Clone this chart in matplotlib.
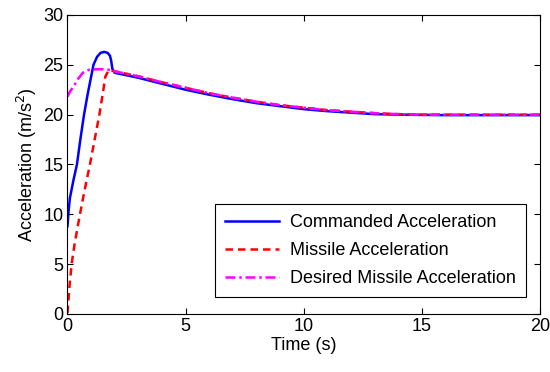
import numpy as np
import matplotlib
matplotlib.use('Agg')
import matplotlib.pyplot as plt

plt.rcParams['font.family'] = ['Liberation Sans', 'DejaVu Sans']

# Commanded acceleration
t_cmd = [0, 0.05, 0.1, 0.25, 0.4, 0.55, 0.7, 0.85, 1.0, 1.1, 1.25, 1.4, 1.55,
         1.7, 1.8, 1.85, 1.9, 2.0, 3, 4, 5, 6, 7, 8, 9, 10, 11, 12, 13, 14,
         15, 16, 17, 18, 19, 20]
a_cmd = [8.8, 10.4, 11.6, 13.4, 15.0, 17.6, 20.0, 22.0, 23.8, 25.0, 25.8, 26.2,
         26.3, 26.2, 25.9, 25.4, 24.6, 24.2, 23.7, 23.1, 22.5, 22.0, 21.55,
         21.15, 20.85, 20.55, 20.35, 20.2, 20.05, 20.0, 19.97, 19.95, 19.95,
         19.95, 19.95, 19.95]

# Missile acceleration
t_mis = [0, 0.05, 0.1, 0.18, 0.3, 0.45, 0.64, 0.8, 0.95, 1.15, 1.35, 1.5,
         1.6, 1.75, 1.9, 2.0, 3, 4, 5, 6, 7, 8, 9, 10, 11, 12, 13, 14, 15,
         16, 17, 18, 19, 20]
a_mis = [0.1, 1.7, 3.2, 5.1, 7.0, 9.0, 11.4, 13.3, 15.0, 17.5, 20.0, 22.2,
         23.8, 24.5, 24.4, 24.35, 23.85, 23.25, 22.7, 22.15, 21.7, 21.3,
         20.95, 20.7, 20.45, 20.3, 20.15, 20.05, 20.0, 20.0, 20.0, 20.0,
         20.0, 20.0]

# Desired missile acceleration
t_des = [0, 0.1, 0.25, 0.45, 0.65, 0.9, 1.2, 1.5, 1.8, 2.0, 3, 4, 5, 6, 7,
         8, 9, 10, 11, 12, 13, 14, 15, 16, 17, 18, 19, 20]
a_des = [21.8, 22.3, 22.8, 23.6, 24.2, 24.5, 24.55, 24.55, 24.5, 24.35,
         23.85, 23.25, 22.7, 22.15, 21.7, 21.3, 20.95, 20.7, 20.45, 20.3,
         20.15, 20.05, 20.0, 20.0, 20.0, 20.0, 20.0, 20.0]

fig = plt.figure(figsize=(5.5, 3.72), dpi=100)
ax = fig.add_axes([0.1227, 0.156, 0.8591, 0.8037])

ax.plot(t_cmd, a_cmd, color='#0000ff', lw=1.8, label='Commanded Acceleration')
ax.plot(t_mis, a_mis, color='#ff0000', lw=1.8, ls=(0, (3, 2)),
        label='Missile Acceleration')
ax.plot(t_des, a_des, color='#ff00ff', lw=1.8, ls=(0, (4, 1.5, 1, 1.5)),
        label='Desired Missile Acceleration')

ax.set_xlim(0, 20)
ax.set_ylim(0, 30)
ax.set_xticks([0, 5, 10, 15, 20])
ax.set_yticks([0, 5, 10, 15, 20, 25, 30])
ax.tick_params(direction='in', top=True, right=True, labelsize=13, length=4,
               pad=3)
ax.set_xlabel('Time (s)', fontsize=13, labelpad=1)
ax.set_ylabel('Acceleration (m/s$^2$)', fontsize=13, labelpad=3)

leg = ax.legend(loc='lower right', bbox_to_anchor=(0.970, 0.057),
                fontsize=13, handlelength=3.0, handletextpad=0.6,
                fancybox=False, edgecolor='black', framealpha=1,
                borderaxespad=0, labelspacing=0.6, borderpad=0.55)
leg.get_frame().set_linewidth(0.8)

fig.savefig('out.png', dpi=100)
